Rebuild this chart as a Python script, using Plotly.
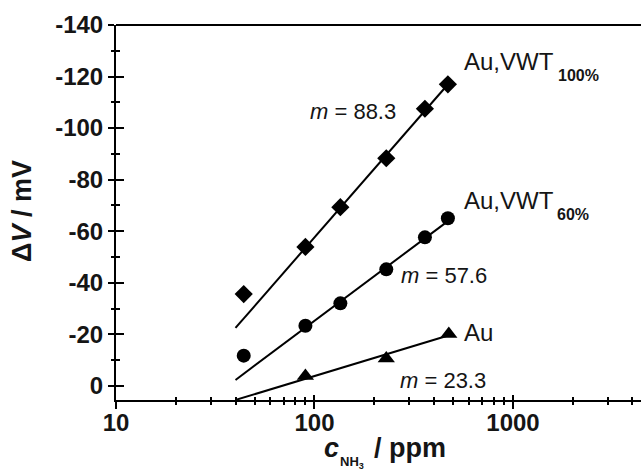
import numpy as np
import plotly.graph_objects as go

# ---- data ----
conc_vwt = [44, 90, 135, 230, 360, 470]          # ppm
dv_vwt100 = [-35.6, -53.9, -69.3, -88.3, -107.5, -117.0]  # mV
dv_vwt60 = [-11.7, -23.3, -32.0, -45.2, -57.6, -65.0]      # mV
conc_au = [90, 230, 475]
dv_au = [-3.8, -10.6, -20.1]

# fitted lines: dV = b - m*log10(c)
fit_range = [40, 472]
fit_vwt100 = (119.0, 88.3)
fit_vwt60 = (90.0, 57.6)
fit_au = (42.8, 23.3)

x_major = [10, 100, 1000]
x_major_text = ["10", "100", "1000"]
x_minor = [20, 30, 40, 50, 60, 70, 80, 90, 200, 300, 400, 500, 600, 700, 800, 900, 2000, 3000, 4000]
y_major = [-140, -120, -100, -80, -60, -40, -20, 0]
y_major_text = ["-140", "-120", "-100", "-80", "-60", "-40", "-20", "0"]
y_minor = [-130, -110, -90, -70, -50, -30, -10]

FONT = "Liberation Sans"
TXT = "#151515"

fig = go.Figure()

def fit_line(b_m):
    b, m = b_m
    xs = np.array(fit_range, dtype=float)
    return xs, b - m * np.log10(xs)

for fit in (fit_vwt100, fit_vwt60, fit_au):
    xs, ys = fit_line(fit)
    fig.add_trace(go.Scatter(x=xs, y=ys, mode="lines",
                             line=dict(color="black", width=2), showlegend=False,
                             hoverinfo="skip"))

fig.add_trace(go.Scatter(x=conc_vwt, y=dv_vwt100, mode="markers",
                         marker=dict(symbol="diamond", size=14, color="black"),
                         showlegend=False))
fig.add_trace(go.Scatter(x=conc_vwt, y=dv_vwt60, mode="markers",
                         marker=dict(symbol="circle", size=14, color="black"),
                         showlegend=False))
fig.add_trace(go.Scatter(x=conc_au, y=dv_au, mode="markers",
                         marker=dict(symbol="triangle-up", size=15, color="black"),
                         showlegend=False))

# invisible trace for the overlay axes (inside ticks)
fig.add_trace(go.Scatter(x=[100], y=[0], xaxis="x2", yaxis="y2", mode="markers",
                         marker=dict(opacity=0), showlegend=False, hoverinfo="skip"))

xr = [1, 3.645]
yr = [5.5, -140]

tickfont = dict(family=FONT, size=24, color=TXT, weight="bold")

fig.update_layout(
    width=641, height=472,
    margin=dict(l=116, r=0, t=25, b=72),
    paper_bgcolor="white", plot_bgcolor="white",
    xaxis=dict(type="log", range=xr, showline=True, linecolor="black", linewidth=2,
               showgrid=False, zeroline=False,
               tickmode="array", tickvals=x_major, ticktext=x_major_text,
               ticks="outside", ticklen=7, tickwidth=2, tickcolor="black",
               tickfont=tickfont, ticklabelstandoff=-7,
               minor=dict(tickmode="array", tickvals=x_minor, ticks="outside",
                          ticklen=3, tickwidth=1.5, tickcolor="black", showgrid=False)),
    yaxis=dict(range=yr, showline=True, linecolor="black", linewidth=2,
               showgrid=False, zeroline=False,
               tickmode="array", tickvals=y_major, ticktext=y_major_text,
               ticks="outside", ticklen=6, tickwidth=2, tickcolor="black",
               tickfont=tickfont,
               minor=dict(tickmode="array", tickvals=y_minor, ticks="outside",
                          ticklen=3, tickwidth=1.5, tickcolor="black", showgrid=False)),
    xaxis2=dict(type="log", range=xr, overlaying="x", anchor="y2", showline=False,
                showgrid=False, zeroline=False, showticklabels=False,
                tickmode="array", tickvals=x_major,
                ticks="inside", ticklen=5, tickwidth=2, tickcolor="black",
                minor=dict(tickmode="array", tickvals=x_minor, ticks="inside",
                           ticklen=3, tickwidth=1.5, tickcolor="black", showgrid=False)),
    yaxis2=dict(range=yr, overlaying="y", anchor="x2", side="left", showline=False,
                showgrid=False, zeroline=False, showticklabels=False,
                tickmode="array", tickvals=y_major,
                ticks="inside", ticklen=8, tickwidth=2, tickcolor="black",
                minor=dict(tickmode="array", tickvals=y_minor, ticks="inside",
                           ticklen=4, tickwidth=1.5, tickcolor="black", showgrid=False)),
    shapes=[dict(type="line", xref="paper", yref="paper", x0=0, x1=1, y0=1, y1=1,
                 line=dict(color="black", width=2))],
)

ann_font = dict(family=FONT, size=22, color=TXT)
lab_font = dict(family=FONT, size=24, color=TXT)
sub_font = dict(family=FONT, size=16, color=TXT, weight="bold")
title_font = dict(family=FONT, size=27, color=TXT, weight="bold")

def add_text(text, x, y, font):
    fig.add_annotation(text=text, x=x, y=y, xref="x", yref="y", showarrow=False,
                       xanchor="left", yanchor="middle", font=font)

add_text("Au,VWT", 2.743, -125.7, lab_font)
add_text("100%", 3.215, -120.3, sub_font)
add_text("Au,VWT", 2.743, -72.0, lab_font)
add_text("60%", 3.212, -66.3, sub_font)
add_text("Au", 2.745, -20.5, lab_font)
add_text("<i>m</i> = 88.3", 1.967, -106.3, ann_font)
add_text("<i>m</i> = 57.6", 2.427, -42.7, ann_font)
add_text("<i>m</i> = 23.3", 2.421, -2.2, ann_font)

# axis titles, placed in pixel terms of the plot area (width 525, height 375)
def px(xp):
    return (xp - 116) / 525.0

def py(yp):
    return (400 - yp) / 375.0

def add_paper(text, xp, yp, font, xanchor="left", angle=0):
    fig.add_annotation(text=text, x=px(xp), y=py(yp), xref="paper", yref="paper",
                       showarrow=False, xanchor=xanchor, yanchor="middle",
                       font=font, textangle=angle)

add_paper("<i>c</i>", 322, 448, title_font)
add_paper("NH<sub>3</sub>", 338, 462, dict(family=FONT, size=13, color=TXT, weight="bold"))
add_paper("/ ppm", 372, 448, title_font)
add_paper("Δ<i>V</i> / mV", 22.5, 211.5, title_font, xanchor="center", angle=-90)

fig.write_html("out.html")
